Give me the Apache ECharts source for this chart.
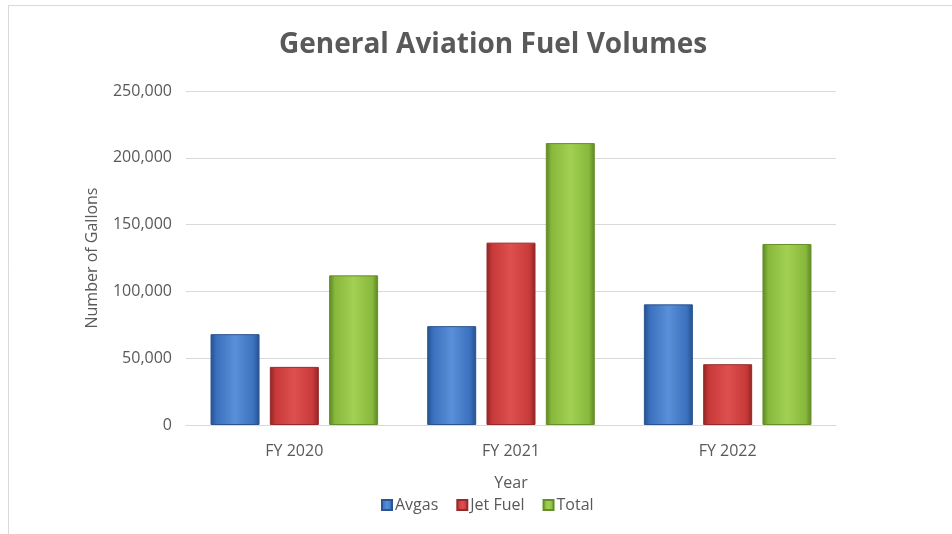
<!DOCTYPE html>
<html>
<head>
<meta charset="utf-8">
<script src="https://cdn.jsdelivr.net/npm/echarts@6/dist/echarts.min.js"></script>
<style>
html,body{margin:0;padding:0;background:#fff;}
#chart{width:952px;height:534px;}
</style>
</head>
<body>
<div id="chart"></div>
<script>
const categories = ['FY 2020', 'FY 2021', 'FY 2022'];
const avgas = [68000, 74000, 90300];
const jetFuel = [43500, 136500, 45500];
const total = [112000, 211000, 135500];
const yTicks = [0, 50000, 100000, 150000, 200000, 250000];

function grad(edge, mid, light) {
  return new echarts.graphic.LinearGradient(0, 0, 1, 0, [
    {offset: 0, color: edge},
    {offset: 0.12, color: mid},
    {offset: 0.5, color: light},
    {offset: 0.88, color: mid},
    {offset: 1, color: edge}
  ]);
}

const font = '"Open Sans", sans-serif';
const chart = echarts.init(document.getElementById('chart'));
chart.setOption({
  animation: false,
  color: ['#3a70bd', '#c83a3a', '#88b93c'],
  title: {
    text: 'General Aviation Fuel Volumes',
    left: 488, top: 26, textAlign: 'center',
    textStyle: {fontFamily: font, fontSize: 28, fontWeight: 'bold', color: '#595959'}
  },
  graphic: [
    {type: 'line', shape: {x1: 8, y1: 5.5, x2: 952, y2: 5.5}, style: {stroke: '#d9d9d9', lineWidth: 1}},
    {type: 'line', shape: {x1: 8.5, y1: 5, x2: 8.5, y2: 534}, style: {stroke: '#d9d9d9', lineWidth: 1}}
  ],
  legend: {
    bottom: 16, left: 376,
    itemWidth: 10, itemHeight: 10, itemGap: 18,
    icon: 'rect',
    textStyle: {fontFamily: font, fontSize: 16, color: '#595959', padding: [0, 0, 0, -2]},
    data: ['Avgas', 'Jet Fuel', 'Total']
  },
  grid: {left: 186, right: 116, top: 91, bottom: 109},
  xAxis: {
    type: 'category', data: categories,
    name: 'Year', nameLocation: 'middle', nameGap: 50,
    nameTextStyle: {fontFamily: font, fontSize: 16, color: '#595959'},
    axisLine: {lineStyle: {color: '#d9d9d9', width: 1}},
    axisTick: {show: false},
    axisLabel: {fontFamily: font, fontSize: 16, color: '#595959', margin: 18}
  },
  yAxis: {
    type: 'value', min: 0, max: 250000, interval: 50000,
    name: 'Number of Gallons', nameLocation: 'middle', nameGap: 86, nameRotate: 90,
    nameTextStyle: {fontFamily: font, fontSize: 16, color: '#595959'},
    axisLine: {show: false}, axisTick: {show: false},
    splitLine: {lineStyle: {color: '#d9d9d9', width: 1}},
    axisLabel: {
      fontFamily: font, fontSize: 16, color: '#595959', margin: 14,
      formatter: v => yTicks.includes(v) ? v.toLocaleString('en-US') : ''
    }
  },
  series: [
    {name: 'Avgas', type: 'bar', data: avgas, barWidth: 49, barGap: '21%', barCategoryGap: '22%',
     itemStyle: {color: grad('#24508c', '#3a70bd', '#5a90d8'), borderColor: '#2a5592', borderWidth: 1}},
    {name: 'Jet Fuel', type: 'bar', data: jetFuel, barWidth: 49,
     itemStyle: {color: grad('#8e2424', '#c83a3a', '#de5050'), borderColor: '#962a2a', borderWidth: 1}},
    {name: 'Total', type: 'bar', data: total, barWidth: 49,
     itemStyle: {color: grad('#5c8424', '#88b93c', '#a2d052'), borderColor: '#668f2a', borderWidth: 1}}
  ]
});
</script>
</body>
</html>
